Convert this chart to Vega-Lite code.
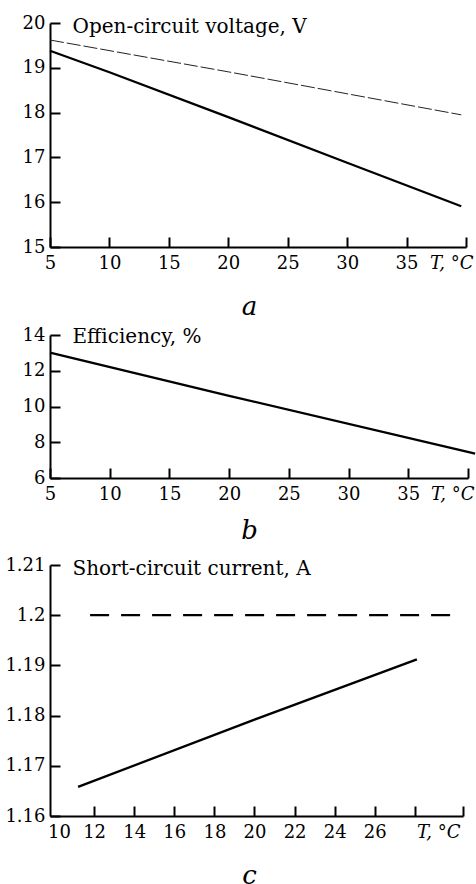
{
  "$schema": "https://vega.github.io/schema/vega-lite/v6.json",
  "background": "white",
  "padding": {"left": 4, "top": 14, "right": 0, "bottom": 0},
  "spacing": 7,
  "config": {
    "view": {"stroke": null},
    "font": "DejaVu Serif",
    "axis": {
      "grid": false,
      "domainColor": "black",
      "domainWidth": 2,
      "tickColor": "black",
      "tickWidth": 2,
      "tickSize": -10,
      "labelFont": "DejaVu Serif",
      "labelFontSize": 18,
      "labelColor": "black",
      "labelOverlap": false,
      "labelBound": false,
      "labelFlush": false,
      "titleFont": "DejaVu Serif",
      "titleColor": "black",
      "titleFontWeight": "normal"
    },
    "axisY": {
      "labelPadding": 15,
      "titleAngle": 0,
      "titleAlign": "left",
      "titleBaseline": "alphabetic",
      "titleX": 22,
      "titleY": 9,
      "titleFontSize": 20
    },
    "axisX": {
      "labelPadding": 17,
      "titleFontSize": 26,
      "titleFontStyle": "italic",
      "titleX": 199,
      "titleAnchor": "middle"
    }
  },
  "datasets": {
    "voltage": [
      {"T": 5, "V": 19.38, "series": "measured"},
      {"T": 10, "V": 18.9, "series": "measured"},
      {"T": 20, "V": 17.9, "series": "measured"},
      {"T": 30, "V": 16.88, "series": "measured"},
      {"T": 39.6, "V": 15.91, "series": "measured"},
      {"T": 5, "V": 19.62, "series": "rated"},
      {"T": 20, "V": 18.91, "series": "rated"},
      {"T": 39.6, "V": 17.95, "series": "rated"}
    ],
    "efficiency": [
      {"T": 5, "E": 13.02},
      {"T": 20, "E": 10.6},
      {"T": 40.6, "E": 7.37}
    ],
    "current": [
      {"T": 11.2, "I": 1.1658, "series": "measured"},
      {"T": 20, "I": 1.1792, "series": "measured"},
      {"T": 28.1, "I": 1.1912, "series": "measured"},
      {"T": 11.8, "I": 1.2, "series": "rated"},
      {"T": 30.1, "I": 1.2, "series": "rated"}
    ]
  },
  "vconcat": [
    {
      "width": 416,
      "height": 224,
      "data": {"name": "voltage"},
      "layer": [
        {
          "transform": [{"filter": "datum.series === 'measured'"}],
          "mark": {"type": "line", "color": "black", "strokeWidth": 2.3},
          "encoding": {
            "x": {"field": "T", "type": "quantitative"},
            "y": {"field": "V", "type": "quantitative"}
          }
        },
        {
          "transform": [{"filter": "datum.series === 'rated'"}],
          "mark": {"type": "line", "color": "#222", "strokeWidth": 1, "strokeDash": [14, 3]},
          "encoding": {
            "x": {"field": "T", "type": "quantitative"},
            "y": {"field": "V", "type": "quantitative"}
          }
        }
      ],
      "encoding": {
        "x": {
          "field": "T", "type": "quantitative",
          "scale": {"domain": [5, 40], "nice": false, "zero": false},
          "axis": {
            "values": [5, 10, 15, 20, 25, 30, 35, 40],
            "title": "a",
            "titlePadding": 21,
            "labelExpr": "datum.value == 40 ? 'T, °C' : datum.label",
            "labelAlign": {"condition": {"test": "datum.value == 40", "value": "right"}, "value": "center"},
            "labelOffset": {"condition": {"test": "datum.value == 40", "value": 7}, "value": 0},
            "labelFontStyle": {"condition": {"test": "datum.value == 40", "value": "italic"}, "value": "normal"}
          }
        },
        "y": {
          "field": "V", "type": "quantitative",
          "scale": {"domain": [15, 20], "nice": false, "zero": false},
          "axis": {"values": [15, 16, 17, 18, 19, 20], "title": "Open-circuit voltage, V"}
        }
      }
    },
    {
      "width": 418,
      "height": 143,
      "data": {"name": "efficiency"},
      "mark": {"type": "line", "color": "black", "strokeWidth": 2.3, "clip": false},
      "encoding": {
        "x": {
          "field": "T", "type": "quantitative",
          "scale": {"domain": [5, 40], "nice": false, "zero": false},
          "axis": {
            "values": [5, 10, 15, 20, 25, 30, 35, 40],
            "title": ["b", ""],
            "titleLineHeight": 6,
            "titlePadding": 14,
            "labelExpr": "datum.value == 40 ? 'T, °C' : datum.label",
            "labelAlign": {"condition": {"test": "datum.value == 40", "value": "right"}, "value": "center"},
            "labelOffset": {"condition": {"test": "datum.value == 40", "value": 6}, "value": 0},
            "labelFontStyle": {"condition": {"test": "datum.value == 40", "value": "italic"}, "value": "normal"}
          }
        },
        "y": {
          "field": "E", "type": "quantitative",
          "scale": {"domain": [6, 14], "nice": false, "zero": false},
          "axis": {"values": [6, 8, 10, 12, 14], "title": "Efficiency, %", "titleY": 7}
        }
      }
    },
    {
      "width": 413,
      "height": 251,
      "data": {"name": "current"},
      "layer": [
        {
          "transform": [{"filter": "datum.series === 'measured'"}],
          "mark": {"type": "line", "color": "black", "strokeWidth": 2.3},
          "encoding": {
            "x": {"field": "T", "type": "quantitative"},
            "y": {"field": "I", "type": "quantitative"}
          }
        },
        {
          "transform": [{"filter": "datum.series === 'rated'"}],
          "mark": {"type": "line", "color": "black", "strokeWidth": 2.3, "strokeDash": [19, 12]},
          "encoding": {
            "x": {"field": "T", "type": "quantitative"},
            "y": {"field": "I", "type": "quantitative"}
          }
        }
      ],
      "encoding": {
        "x": {
          "field": "T", "type": "quantitative",
          "scale": {"domain": [9.8, 30.4], "nice": false, "zero": false},
          "axis": {
            "values": [10, 12, 14, 16, 18, 20, 22, 24, 26, 28, 30.4],
            "title": "c",
            "titlePadding": 21,
            "labelExpr": "datum.value == 30.4 ? 'T, °C' : (datum.value == 28 ? '' : datum.label)",
            "labelAlign": {"condition": {"test": "datum.value == 30.4", "value": "right"}, "value": "center"},
            "labelOffset": {"condition": [{"test": "datum.value == 30.4", "value": -3}, {"test": "datum.value == 10", "value": 5}], "value": 0},
            "labelFontStyle": {"condition": {"test": "datum.value == 30.4", "value": "italic"}, "value": "normal"},
            "tickOpacity": {"condition": {"test": "datum.value == 10", "value": 0}, "value": 1}
          }
        },
        "y": {
          "field": "I", "type": "quantitative",
          "scale": {"domain": [1.16, 1.21], "nice": false, "zero": false},
          "axis": {"values": [1.16, 1.17, 1.18, 1.19, 1.2, 1.21], "format": "~g", "title": "Short-circuit current, A"}
        }
      }
    }
  ]
}
